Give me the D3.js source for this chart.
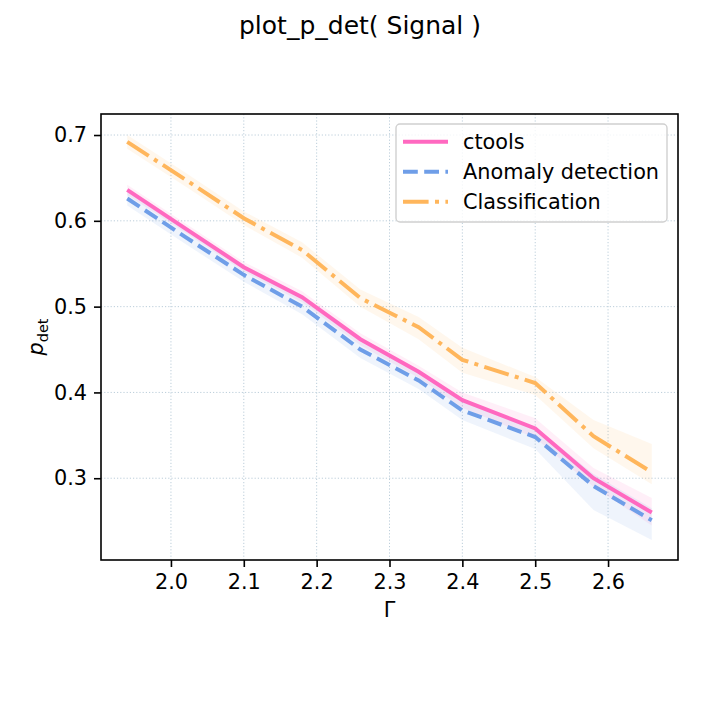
<!DOCTYPE html>
<html lang="en">
<head>
<meta charset="utf-8">
<script src="https://d3js.org/d3.v7.min.js"></script>
<style>
  body { margin: 0; background: #fff; }
  text { font-family: "DejaVu Sans", sans-serif; fill: #000; }
  .grid line { stroke: #b4c8d6; stroke-width: 0.9px; stroke-dasharray: 1.2,2; }
  .axis path, .axis line { stroke: #000; stroke-width: 1.6px; }
  .axis text { font-size: 20.8px; }
</style>
</head>
<body>
<div id="chart"></div>
<script>
// data
var gamma = [1.94, 2.02, 2.10, 2.18, 2.26, 2.34, 2.40, 2.50, 2.58, 2.66];

var ctools      = [0.636, 0.591, 0.546, 0.511, 0.462, 0.424, 0.391, 0.358, 0.300, 0.260];
var ctoolsLow   = [0.630, 0.586, 0.541, 0.505, 0.455, 0.417, 0.382, 0.347, 0.290, 0.245];
var ctoolsHigh  = [0.642, 0.597, 0.552, 0.518, 0.469, 0.431, 0.400, 0.370, 0.312, 0.277];

var anomaly     = [0.626, 0.581, 0.537, 0.500, 0.450, 0.414, 0.379, 0.348, 0.291, 0.251];
var anomalyLow  = [0.618, 0.573, 0.529, 0.491, 0.440, 0.404, 0.368, 0.334, 0.263, 0.228];
var anomalyHigh = [0.634, 0.589, 0.545, 0.509, 0.459, 0.423, 0.389, 0.360, 0.305, 0.265];

var classif     = [0.692, 0.648, 0.603, 0.566, 0.510, 0.476, 0.438, 0.411, 0.349, 0.307];
var classifLow  = [0.684, 0.640, 0.595, 0.557, 0.500, 0.462, 0.423, 0.397, 0.335, 0.293];
var classifHigh = [0.700, 0.656, 0.611, 0.575, 0.520, 0.488, 0.452, 0.418, 0.368, 0.340];

var seriesNames = ["ctools", "Anomaly detection", "Classification"];
var xTicks = [2.0, 2.1, 2.2, 2.3, 2.4, 2.5, 2.6];
var yTicks = [0.3, 0.4, 0.5, 0.6, 0.7];

var colors = ["#ff69c0", "#6f9ee8", "#ffb65c"];
var dashes = [null, "14.8,6.4", "25.6,6.4,4,6.4"];

var series = [
  { name: seriesNames[0], mid: ctools,  lo: ctoolsLow,  hi: ctoolsHigh },
  { name: seriesNames[1], mid: anomaly, lo: anomalyLow, hi: anomalyHigh },
  { name: seriesNames[2], mid: classif, lo: classifLow, hi: classifHigh }
];

var margin = { top: 114, right: 42, bottom: 160, left: 101 },
    width = 720 - margin.left - margin.right,
    height = 720 - margin.top - margin.bottom;

var svg = d3.select("#chart").append("svg")
    .attr("width", 720).attr("height", 720);

svg.append("rect").attr("width", 720).attr("height", 720).attr("fill", "#fff");

var g = svg.append("g")
    .attr("transform", "translate(" + margin.left + "," + margin.top + ")");

var x = d3.scaleLinear().domain([1.904, 2.696]).range([0, width]);
var y = d3.scaleLinear().domain([0.2047, 0.7245]).range([height, 0]);

// grid
g.append("g").attr("class", "grid")
  .selectAll("line").data(xTicks).enter().append("line")
  .attr("x1", function(d) { return x(d); }).attr("x2", function(d) { return x(d); })
  .attr("y1", 0).attr("y2", height);
g.append("g").attr("class", "grid")
  .selectAll("line").data(yTicks).enter().append("line")
  .attr("y1", function(d) { return y(d); }).attr("y2", function(d) { return y(d); })
  .attr("x1", 0).attr("x2", width);

// bands
var area = d3.area()
  .x(function(d) { return x(d.x); })
  .y0(function(d) { return y(d.lo); })
  .y1(function(d) { return y(d.hi); });

var line = d3.line()
  .x(function(d) { return x(d.x); })
  .y(function(d) { return y(d.v); });

series.forEach(function(s, i) {
  var pts = gamma.map(function(gv, j) { return { x: gv, lo: s.lo[j], hi: s.hi[j] }; });
  g.append("path").datum(pts)
    .attr("d", area)
    .attr("fill", colors[i])
    .attr("fill-opacity", 0.11);
});

series.forEach(function(s, i) {
  var pts = gamma.map(function(gv, j) { return { x: gv, v: s.mid[j] }; });
  g.append("path").datum(pts)
    .attr("d", line)
    .attr("fill", "none")
    .attr("stroke", colors[i])
    .attr("stroke-width", 4)
    .attr("stroke-dasharray", dashes[i]);
});

// axes
var xAxis = g.append("g").attr("class", "axis")
  .attr("transform", "translate(0," + height + ")")
  .call(d3.axisBottom(x).tickValues(xTicks).tickFormat(d3.format(".1f")).tickSize(7).tickPadding(7).tickSizeOuter(0));
xAxis.select(".domain").remove();

var yAxis = g.append("g").attr("class", "axis")
  .call(d3.axisLeft(y).tickValues(yTicks).tickFormat(d3.format(".1f")).tickSize(7).tickPadding(7).tickSizeOuter(0));
yAxis.select(".domain").remove();

// frame
g.append("rect")
  .attr("width", width).attr("height", height)
  .attr("fill", "none").attr("stroke", "#000").attr("stroke-width", 1.6);

// labels
svg.append("text")
  .attr("x", margin.left + width / 2).attr("y", 617)
  .attr("text-anchor", "middle").style("font-size", "20.8px")
  .text("Γ");

var yl = svg.append("text")
  .attr("transform", "translate(43," + (margin.top + height / 2) + ") rotate(-90)")
  .attr("text-anchor", "middle").style("font-size", "20.8px");
yl.append("tspan").style("font-style", "italic").text("p");
yl.append("tspan").attr("dy", 5).style("font-size", "14.5px").text("det");

svg.append("text")
  .attr("x", 360).attr("y", 34)
  .attr("text-anchor", "middle").style("font-size", "25px")
  .text("plot_p_det( Signal )");

// legend
var legend = svg.append("g").attr("transform", "translate(396,124)");
legend.append("rect")
  .attr("width", 271).attr("height", 98).attr("rx", 4)
  .attr("fill", "#fff").attr("fill-opacity", 0.8)
  .attr("stroke", "#d0d0d0").attr("stroke-width", 1.4);

var items = legend.selectAll(".item").data(seriesNames).enter().append("g")
  .attr("transform", function(d, i) { return "translate(0," + (17.7 + i * 30) + ")"; });
items.append("line")
  .attr("x1", 7).attr("x2", 52)
  .attr("stroke", function(d, i) { return colors[i]; })
  .attr("stroke-width", 4)
  .attr("stroke-dasharray", function(d, i) { return dashes[i]; });
items.append("text")
  .attr("x", 67).attr("dy", "0.35em")
  .style("font-size", "20.8px")
  .text(function(d) { return d; });
</script>
</body>
</html>
